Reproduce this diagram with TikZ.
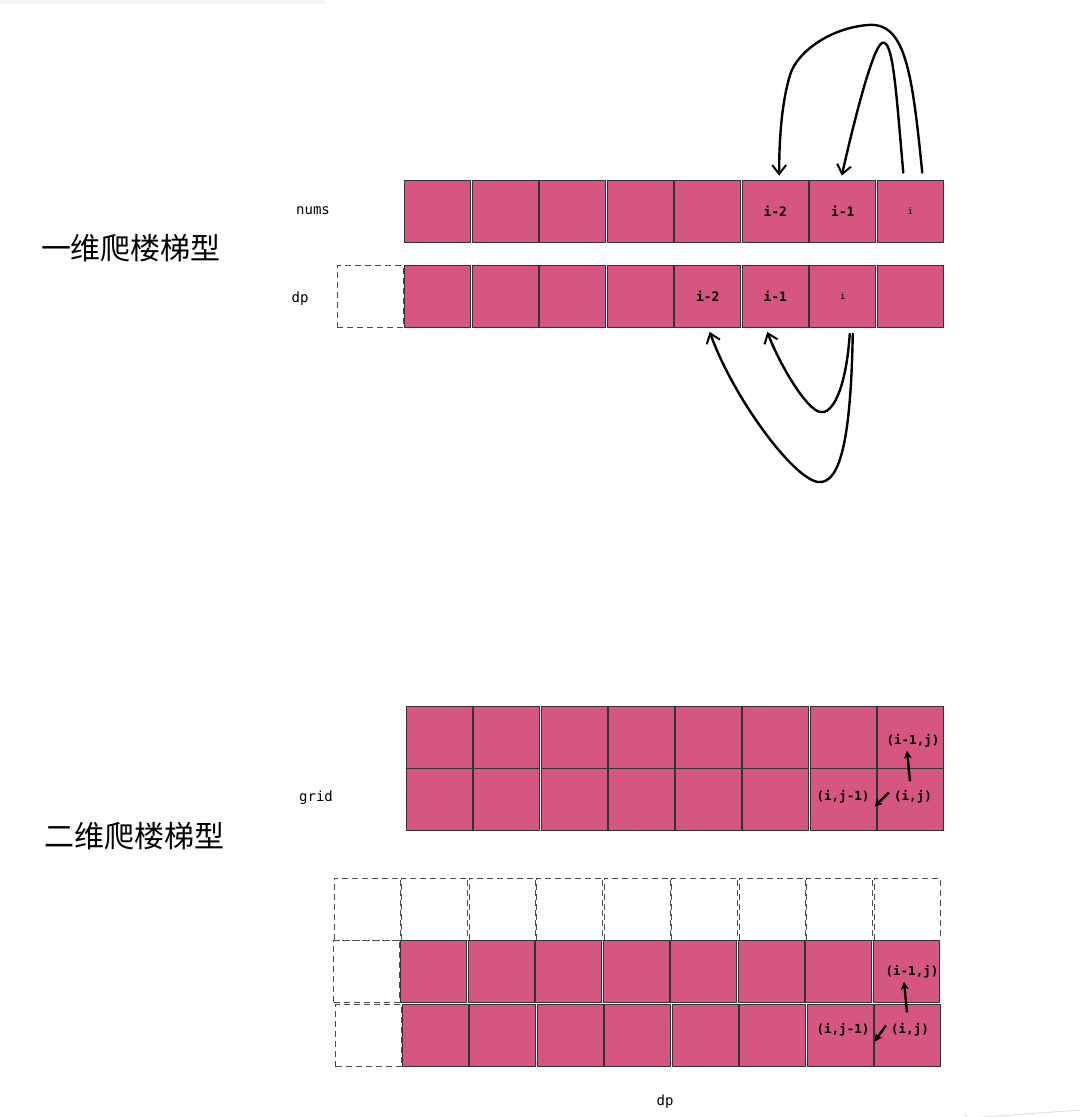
\documentclass[tikz,border=0pt]{standalone}
\usepackage{fontspec}
\setmonofont{DejaVu Sans Mono}
\newfontfamily\cjk{Noto Sans CJK SC}
\usetikzlibrary{arrows.meta,calc}
\definecolor{cellpink}{HTML}{D5577F}
\tikzset{
  cellbox/.style={draw=black!80, line width=0.8pt, fill=cellpink, minimum width=66pt, minimum height=62pt, inner sep=0pt, font=\ttfamily\fontsize{13}{15}\selectfont},
  emptybox/.style={draw=black!70, line width=0.8pt, dash pattern=on 6pt off 4pt, minimum width=66pt, minimum height=62pt, inner sep=0pt},
  lbl/.style={font=\ttfamily\fontsize{14}{16}\selectfont, inner sep=1pt},
  title/.style={font=\cjk\fontsize{30}{34}\selectfont},
  bigarr/.style={line width=2.4pt, line cap=round, -{Straight Barb[length=9pt,width=14pt,line width=2pt]}},
  smallarr/.style={line width=2.4pt, -{Stealth[length=8pt,width=8pt]}},
  cl/.style={font=\ttfamily\bfseries\fontsize{12.5}{14}\selectfont, inner sep=1pt}
}
\begin{document}
\begin{tikzpicture}[x=1pt,y=-1pt]
\useasboundingbox (0,0) rectangle (1080,1117);
\fill[black!4] (0,0) rectangle (325,4);
% titles
\node[title] (t1) at (131,248) {一维爬楼梯型};
\node[title] (t2) at (135,836) {二维爬楼梯型};
% ---- 1D ----
\node[lbl] (numsl) at (313,211) {nums};
\node[lbl] (dpl) at (300,299) {dp};
\foreach \k [evaluate=\k as \xx using 404+33.75+67.5*(\k-1)] in {1,...,8} {
  \node[cellbox] (n\k) at (\xx,211) {};
  \node[cellbox] (d\k) at (\xx,296.5) {};
}
\node[emptybox] (d0) at (370,296.5) {};
\node[cellbox, fill=none, draw=none] at (n6) {\bfseries i-2};
\node[cellbox, fill=none, draw=none] at (n7) {\bfseries i-1};
\node[cellbox, fill=none, draw=none, font=\ttfamily\fontsize{9}{10}\selectfont] at (n8) {i};
\node[cellbox, fill=none, draw=none] at (d5) {\bfseries i-2};
\node[cellbox, fill=none, draw=none] at (d6) {\bfseries i-1};
\node[cellbox, fill=none, draw=none, font=\ttfamily\fontsize{9}{10}\selectfont] at (d7) {i};
% top arrows
\draw[bigarr] ([xshift=-7pt,yshift=7pt]n8.north) .. controls (896,90) and (893,38) .. (882,43)
   .. controls (872,48) and (852,130) .. ([xshift=-1pt,yshift=4pt]n7.north);
\draw[bigarr] ([xshift=12pt,yshift=7pt]n8.north) .. controls (912,70) and (905,22) .. (868,25)
   .. controls (830,28) and (797,52) .. (790,75) .. controls (781,105) and (779,145) .. ([xshift=4pt,yshift=4pt]n6.north);
% bottom arrows
\draw[bigarr] ([xshift=7pt,yshift=-6pt]d7.south) .. controls (846,390) and (832,415) .. (820,412)
   .. controls (806,409) and (780,365) .. ([xshift=-8pt,yshift=-4pt]d6.south);
\draw[bigarr] ([xshift=10pt,yshift=-6pt]d7.south) .. controls (851,430) and (842,485) .. (818,482)
   .. controls (792,478) and (732,395) .. ([xshift=2pt,yshift=-4pt]d5.south);
% ---- 2D grid ----
\node[lbl] (gridl) at (316,798) {grid};
\foreach \r/\yy in {1/737,2/799} {
  \foreach \c [evaluate=\c as \xx using 406+33.6+67.25*(\c-1)] in {1,...,8} {
    \node[cellbox] (g-\r-\c) at (\xx,\yy) {};
  }
}
\node[cl] (ga) at (913,741) {(i-1,j)};
\node[cl] (gb) at (913,797) {(i,j)};
\node[cl] (gc) at (843,797) {(i,j-1)};
\draw[smallarr] ([xshift=-3pt,yshift=8pt]gb.north) -- ([xshift=-6pt,yshift=-2pt]ga.south);
\draw[smallarr] ([xshift=-4pt,yshift=-3pt]gb.north west) -- ([xshift=4pt,yshift=-2pt]gc.south east);
% ---- dp grid ----
\node[lbl] (dp2l) at (665,1102) {dp};
\foreach \c [evaluate=\c as \xx using 333.5+33.5+67.5*\c] in {0,...,8} {
  \node[emptybox] (p-1-\c) at (\xx,909) {};
}
\node[emptybox] (p-2-0) at (366.5,971) {};
\node[emptybox] (p-3-0) at (368.5,1035.5) {};
\foreach \c [evaluate=\c as \xx using 400+33.75+67.5*(\c-1)] in {1,...,8} {
  \node[cellbox] (p-2-\c) at (\xx,971) {};
  \node[cellbox] (p-3-\c) at (\xx+1.5,1035.5) {};
}
\node[cl] (pa) at (912,972) {(i-1,j)};
\node[cl] (pb) at (910,1030) {(i,j)};
\node[cl] (pc) at (843,1030) {(i,j-1)};
\draw[smallarr] ([xshift=-3pt,yshift=10pt]pb.north) -- ([xshift=-8pt,yshift=-2pt]pa.south);
\draw[smallarr] ([xshift=-4pt,yshift=-3pt]pb.north west) -- ([xshift=4pt,yshift=-4pt]pc.south east);
\draw[black!12, line width=1pt] (965,1117) -- (965,1114) arc (180:90:4) -- (1080,1110);
\end{tikzpicture}
\end{document}
